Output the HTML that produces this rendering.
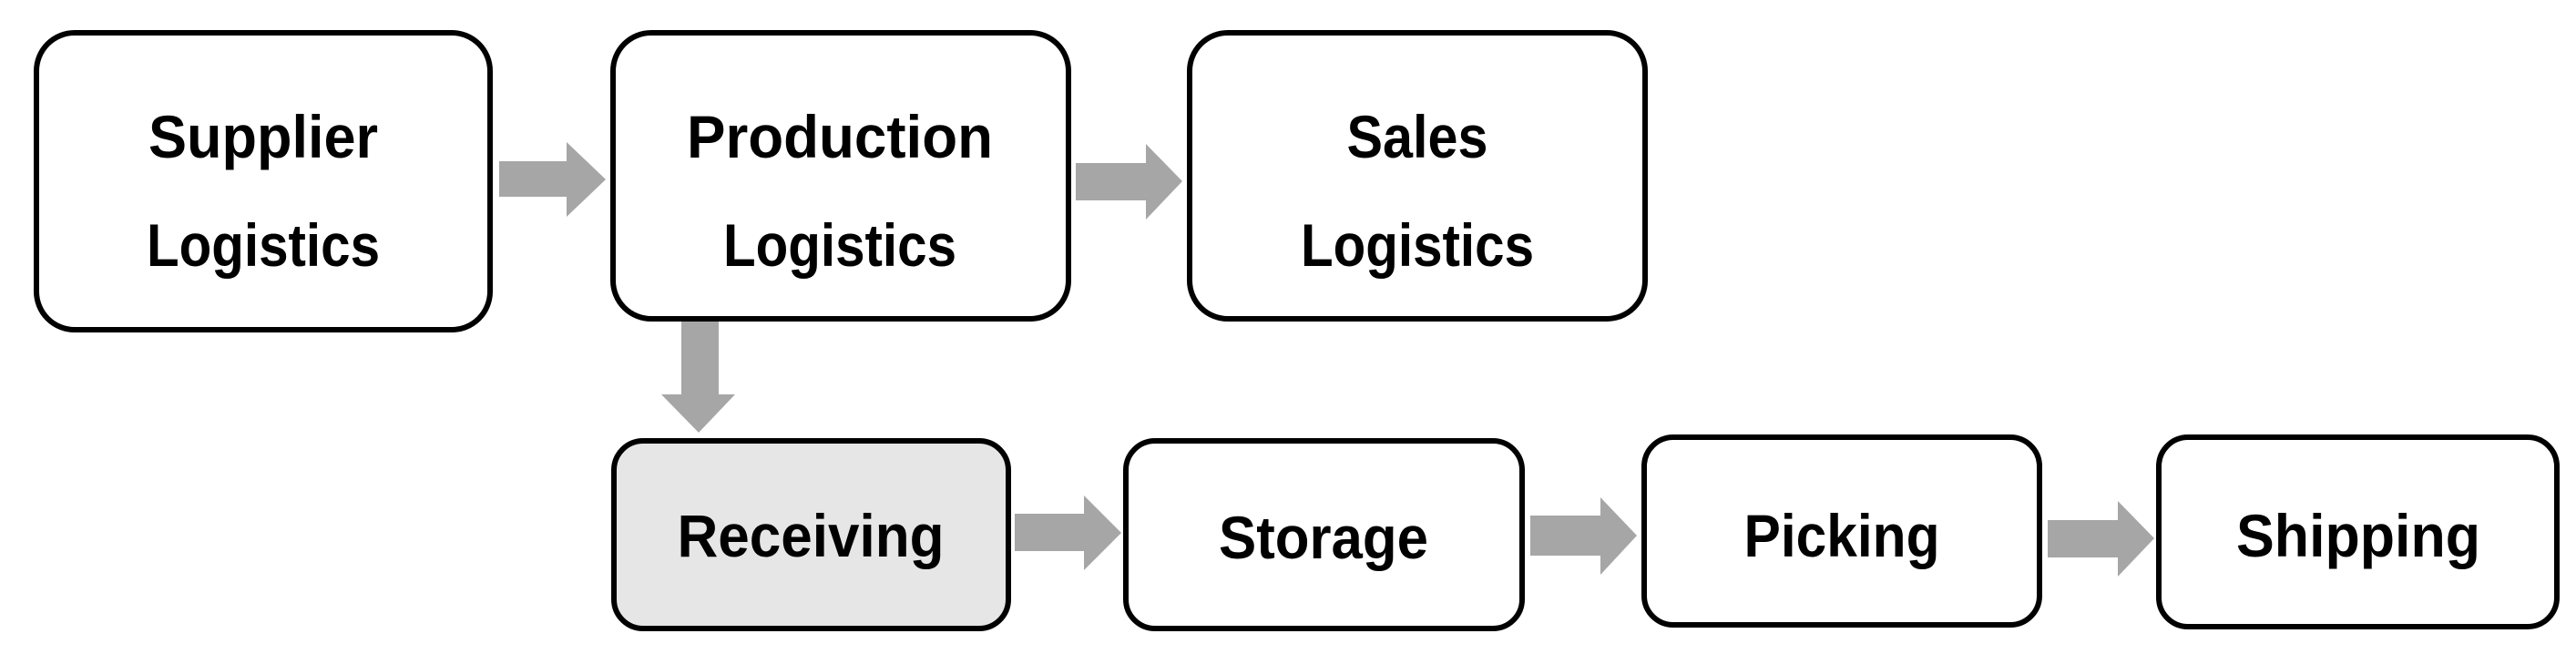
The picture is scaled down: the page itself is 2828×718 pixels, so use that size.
<!DOCTYPE html>
<html><head><meta charset="utf-8"><style>
html,body{margin:0;padding:0;background:#fff;}
svg{display:block}
text{font-family:"Liberation Sans",sans-serif;font-weight:bold;font-size:66px;fill:#000;text-anchor:middle}
</style></head><body>
<svg width="2828" height="718" viewBox="0 0 2828 718" xmlns="http://www.w3.org/2000/svg">
<g stroke="#000" stroke-width="6" fill="#fff">
<rect x="40" y="36" width="498" height="326" rx="42"/>
<rect x="673" y="36" width="500" height="314" rx="42"/>
<rect x="1306" y="36" width="500" height="314" rx="42"/>
<rect x="674" y="484" width="433" height="206" rx="32" fill="#e6e6e6"/>
<rect x="1236" y="484" width="435" height="206" rx="32"/>
<rect x="1805" y="480" width="434" height="206" rx="32"/>
<rect x="2370" y="480" width="437" height="208" rx="32"/>
</g>
<g fill="#a6a6a6">
<polygon points="548,177 622,177 622,156 665,197 622,238 622,216 548,216"/>
<polygon points="1181,179 1258,179 1258,158 1298,199 1258,241 1258,220 1181,220"/>
<polygon points="748,353 789,353 789,433 807,433 767,475 726,433 748,433"/>
<polygon points="1114,564 1190,564 1190,544 1231,585 1190,626 1190,605 1114,605"/>
<polygon points="1680,566 1757,566 1757,546 1797,588 1757,631 1757,610 1680,610"/>
<polygon points="2248,571 2325,571 2325,550 2365,591 2325,633 2325,612 2248,612"/>
</g>
<text x="289" y="173" textLength="252" lengthAdjust="spacingAndGlyphs">Supplier</text>
<text x="289" y="292" textLength="256" lengthAdjust="spacingAndGlyphs">Logistics</text>
<text x="922" y="173" textLength="336" lengthAdjust="spacingAndGlyphs">Production</text>
<text x="922" y="292" textLength="256" lengthAdjust="spacingAndGlyphs">Logistics</text>
<text x="1556" y="173" textLength="155" lengthAdjust="spacingAndGlyphs">Sales</text>
<text x="1556" y="292" textLength="256" lengthAdjust="spacingAndGlyphs">Logistics</text>
<text x="890" y="611" textLength="293" lengthAdjust="spacingAndGlyphs">Receiving</text>
<text x="1453" y="613" textLength="230" lengthAdjust="spacingAndGlyphs">Storage</text>
<text x="2022" y="611" textLength="215" lengthAdjust="spacingAndGlyphs">Picking</text>
<text x="2589" y="611" textLength="268" lengthAdjust="spacingAndGlyphs">Shipping</text>
</svg>
</body></html>
